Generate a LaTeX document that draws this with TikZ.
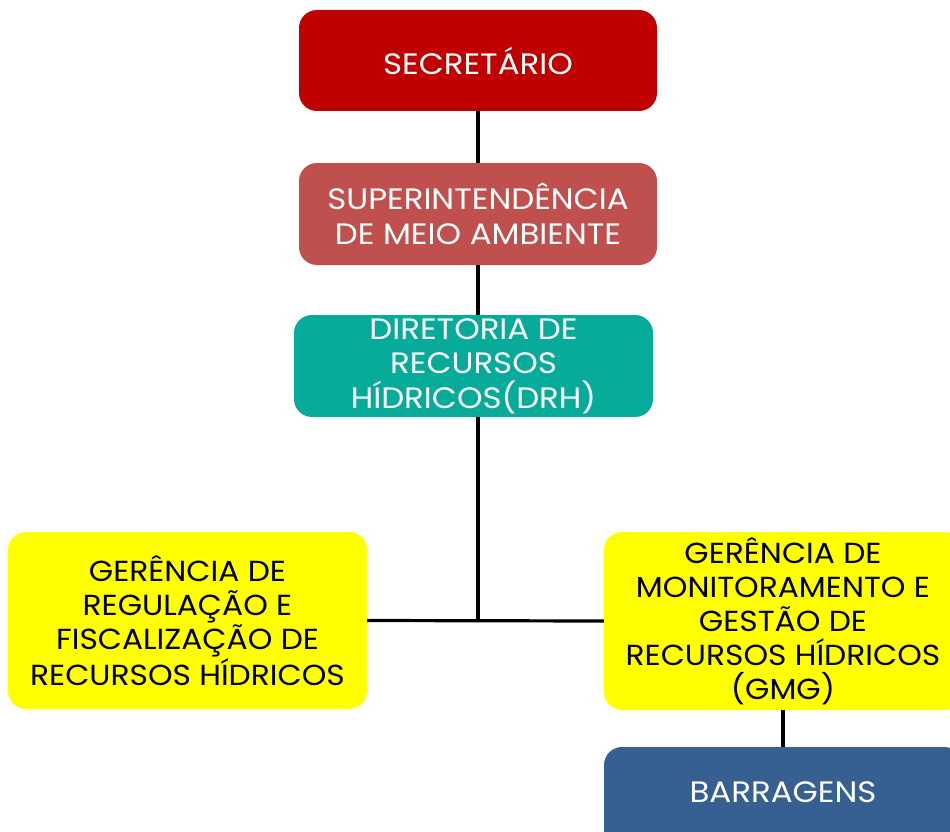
\documentclass[tikz,border=0pt]{standalone}
\usepackage{fontspec}
\setmainfont{Poppins}
\newfontfamily\widefont[FakeStretch=1.1]{Poppins}
\newfontfamily\yelfont[FakeStretch=1.08]{Poppins}
\definecolor{cSec}{HTML}{C00000}
\definecolor{cSup}{HTML}{C0504D}
\definecolor{cDir}{HTML}{07AB9A}
\definecolor{cYel}{HTML}{FFFF00}
\definecolor{cBar}{HTML}{376092}
\tikzset{
  box/.style={rounded corners=18pt, inner sep=0pt, align=center, font=\widefont\fontsize{29.5}{34.5}\selectfont},
  whitebox/.style={box, text=white},
  yelbox/.style={box, fill=cYel, text=black, font=\yelfont\fontsize{29}{34}\selectfont},
  link/.style={line width=3.2pt, black}
}
\begin{document}
\begin{tikzpicture}[x=1pt,y=-1pt]
\useasboundingbox (0,0) rectangle (950,832);
\clip (0,0) rectangle (950,832);
\node[whitebox, fill=cSec, minimum width=358pt, minimum height=101pt] (sec) at (478,60.5) {SECRETÁRIO};
\node[whitebox, fill=cSup, minimum width=358pt, minimum height=102pt] (sup) at (478,214) {SUPERINTENDÊNCIA\\DE MEIO AMBIENTE};
\node[whitebox, fill=cDir, minimum width=359pt, minimum height=102pt] (dir) at (473.5,366) {DIRETORIA DE\\RECURSOS\\HÍDRICOS(DRH)};
\node[yelbox, minimum width=359pt, minimum height=177pt] (gr) at (187.5,620.5) {GERÊNCIA DE\\REGULAÇÃO E\\FISCALIZAÇÃO DE\\RECURSOS HÍDRICOS};
\node[yelbox, minimum width=358pt, minimum height=178pt] (gm) at (783,621) {GERÊNCIA DE\\MONITORAMENTO E\\GESTÃO DE\\RECURSOS HÍDRICOS\\(GMG)};
\node[whitebox, fill=cBar, minimum width=358pt, minimum height=110pt] (bar) at (783,802) {};
\node[whitebox, anchor=center] (bart) at (783,792) {BARRAGENS};
\coordinate (j) at (478,621);
\draw[link] (sec.south -| 478,0) -- (sup.north -| 478,0);
\draw[link] (sup.south -| 478,0) -- (dir.north -| 478,0);
\draw[link] (dir.south -| 478,0) -- (j);
\draw[link] (gr.east) -- (gm.west);
\draw[link] (gm.south) -- (bar.north);
\end{tikzpicture}
\end{document}
